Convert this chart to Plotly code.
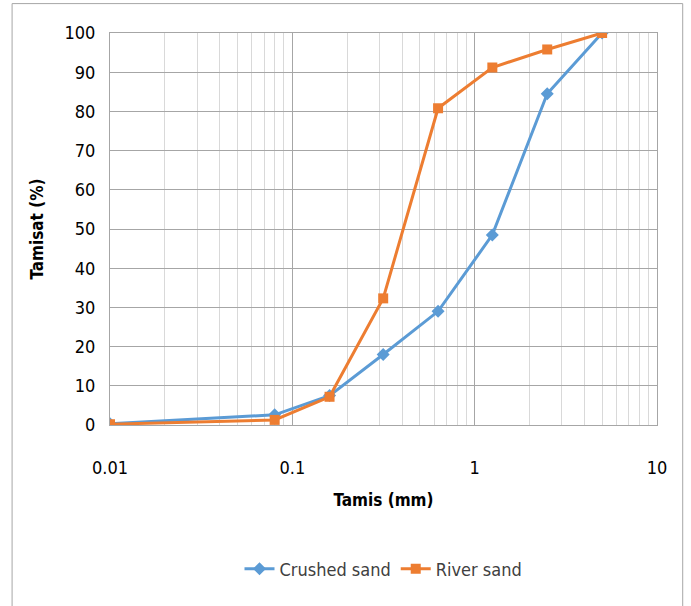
import plotly.graph_objects as go

sieve_mm = [0.01, 0.08, 0.16, 0.315, 0.63, 1.25, 2.5, 5]
crushed_sand = [0.3, 2.6, 7.5, 18.0, 29.0, 48.5, 84.5, 100.0]
river_sand = [0.2, 1.3, 7.2, 32.3, 80.8, 91.2, 95.8, 100.0]
x_ticks = [0.01, 0.1, 1, 10]
x_tick_labels = ["0.01", "0.1", "1", "10"]
y_ticks = list(range(0, 101, 10))

FONT = "DejaVu Sans Condensed, Liberation Sans Narrow, Noto Sans, sans-serif"

fig = go.Figure()
fig.add_trace(go.Scatter(
    x=sieve_mm, y=crushed_sand, name="Crushed sand", mode="lines+markers",
    line=dict(color="#5B9BD5", width=3),
    marker=dict(symbol="diamond", size=10, color="#5B9BD5"),
))
fig.add_trace(go.Scatter(
    x=sieve_mm, y=river_sand, name="River sand", mode="lines+markers",
    line=dict(color="#ED7D31", width=3),
    marker=dict(symbol="square", size=10, color="#ED7D31"),
))

fig.update_layout(
    width=691, height=606,
    margin=dict(l=110, r=34, t=33, b=181),
    paper_bgcolor="white", plot_bgcolor="white",
    font=dict(family=FONT, size=18, color="#000000"),
    showlegend=True,
    legend=dict(orientation="h", x=0.5, xanchor="center", y=-0.32, yanchor="top",
                font=dict(family=FONT, size=18, color="#404040")),
    xaxis=dict(
        type="log", range=[-2, 1],
        tickvals=x_ticks, ticktext=x_tick_labels,
        ticklabelstandoff=26, tickfont=dict(size=18),
        showgrid=True, gridcolor="#A6A6A6", gridwidth=1,
        minor=dict(dtick="D1", showgrid=True, gridcolor="#D9D9D9", gridwidth=1),
        showline=True, linecolor="#A6A6A6", mirror=True,
        ticks="", zeroline=False,
        title=dict(text="<b>Tamis (mm)</b>", font=dict(family=FONT, size=17), standoff=17),
    ),
    yaxis=dict(
        range=[0, 100], tickvals=y_ticks,
        ticklabelstandoff=10, tickfont=dict(size=18),
        showgrid=True, gridcolor="#A6A6A6", gridwidth=1,
        showline=True, linecolor="#A6A6A6", mirror=True,
        ticks="", zeroline=False,
        title=dict(text="<b>Tamisat (%)</b>", font=dict(family=FONT, size=17), standoff=16),
    ),
)

fig.add_shape(type="rect", xref="paper", yref="paper",
              x0=-0.179, x1=1.047, y0=-0.6, y1=1.075,
              line=dict(color="#A6A6A6", width=1), fillcolor="rgba(0,0,0,0)",
              layer="below")

fig.write_html("out.html")
